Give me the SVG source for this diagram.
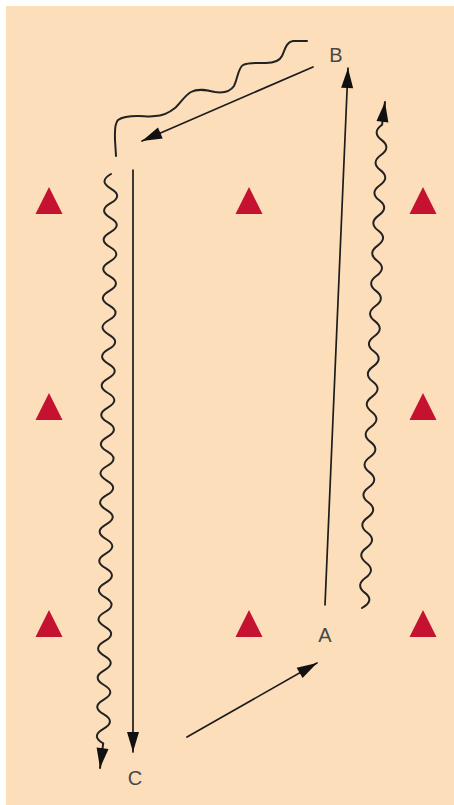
<svg xmlns="http://www.w3.org/2000/svg" width="454" height="805" viewBox="0 0 454 805">
<style>
.ln{fill:none;stroke:#1c1c1c;stroke-width:1.7;stroke-linecap:round;stroke-linejoin:round}
.wv{fill:none;stroke:#222;stroke-width:2;stroke-linecap:round;stroke-linejoin:round}
.tri{fill:#C41230}
.lbl{font-family:"Liberation Sans",Arial,sans-serif;font-size:20px;fill:#474747;text-anchor:middle}
</style>
<defs>
<marker id="ah" viewBox="-22 -8 24 16" refX="0" refY="0" markerWidth="24" markerHeight="16" markerUnits="userSpaceOnUse" orient="auto">
<path d="M0,0 L-20,-6 L-20,6 Z" fill="#111"/>
</marker>
</defs>
<rect x="6" y="6" width="448" height="799" fill="#FDDEBB"/>
<g id="triangles">
<polygon class="tri" points="49,187 35.5,214 62.5,214"/>
<polygon class="tri" points="249,187 235.5,214 262.5,214"/>
<polygon class="tri" points="423,187 409.5,214 436.5,214"/>
<polygon class="tri" points="49,393 35.5,420 62.5,420"/>
<polygon class="tri" points="423,393 409.5,420 436.5,420"/>
<polygon class="tri" points="49,610 35.5,637 62.5,637"/>
<polygon class="tri" points="249,610 235.5,637 262.5,637"/>
<polygon class="tri" points="423,610 409.5,637 436.5,637"/>
</g>
<g id="node-B"><text class="lbl" x="336" y="62">B</text></g>
<g id="node-A"><text class="lbl" x="325" y="642">A</text></g>
<g id="node-C"><text class="lbl" x="135" y="785">C</text></g>
<g id="connectors">
<path class="wv" d="M307,41 L293,41 C286,42 285,50 282,56 C279,62 272,63 266,63 C258,63 248,62 243,65 C238,68 238,78 234,86 C230,92 222,93 215,92 C207,90 198,88 191,92 C184,96 180,104 175,108 C170,112 162,116 155,116 C150,117 144,116 138,116 C130,116 122,117 118,120 C114,124 115,133 115,140 L116,156"/>
<path class="wv" marker-end="url(#ah)" d="M111,174 q -13 7.3 -0.2 14.6 t -0.2 14.6 t -0.2 14.6 t -0.2 14.6 t -0.2 14.6 t -0.2 14.6 t -0.2 14.6 t -0.2 14.6 t -0.2 14.6 t -0.2 14.6 t -0.2 14.6 t -0.2 14.6 t -0.2 14.6 t -0.2 14.6 t -0.2 14.6 t -0.2 14.6 t -0.2 14.6 t -0.2 14.6 t -0.2 14.6 t -0.2 14.6 t -0.2 14.6 t -0.2 14.6 t -0.2 14.6 t -0.2 14.6 t -0.2 14.6 t -0.2 14.6 t -0.2 14.6 t -0.2 14.6 t -0.2 14.6 t -0.2 14.6 t -0.2 14.6 t -0.2 14.6 t -0.2 14.6 t -0.2 14.6 t -0.2 14.6 t -0.2 14.6 t -0.2 14.6 t -0.2 14.6 t -0.2 14.6 L100,768"/>
<path class="wv" marker-end="url(#ah)" d="M362,608 q 13 -7.5 3 -15.1 t 0.55 -15.1 t 0.55 -15.1 t 0.55 -15.1 t 0.55 -15.1 t 0.55 -15.1 t 0.55 -15.1 t 0.55 -15.1 t 0.55 -15.1 t 0.55 -15.1 t 0.55 -15.1 t 0.55 -15.1 t 0.55 -15.1 t 0.55 -15.1 t 0.55 -15.1 t 0.55 -15.1 t 0.55 -15.1 t 0.55 -15.1 t 0.55 -15.1 t 0.55 -15.1 t 0.55 -15.1 t 0.55 -15.1 t 0.55 -15.1 t 0.55 -15.1 t 0.55 -15.1 t 0.55 -15.1 t 0.55 -15.1 t 0.55 -15.1 t 0.55 -15.1 t 0.55 -15.1 t 0.55 -15.1 t 0.55 -15.1 L385,102"/>
<line class="ln" marker-end="url(#ah)" x1="325" y1="605" x2="348" y2="68"/>
<line class="ln" marker-end="url(#ah)" x1="313" y1="67" x2="142" y2="141"/>
<line class="ln" marker-end="url(#ah)" x1="133" y1="170" x2="133" y2="752"/>
<line class="ln" marker-end="url(#ah)" x1="187" y1="737" x2="317" y2="663"/>
</g>
</svg>
